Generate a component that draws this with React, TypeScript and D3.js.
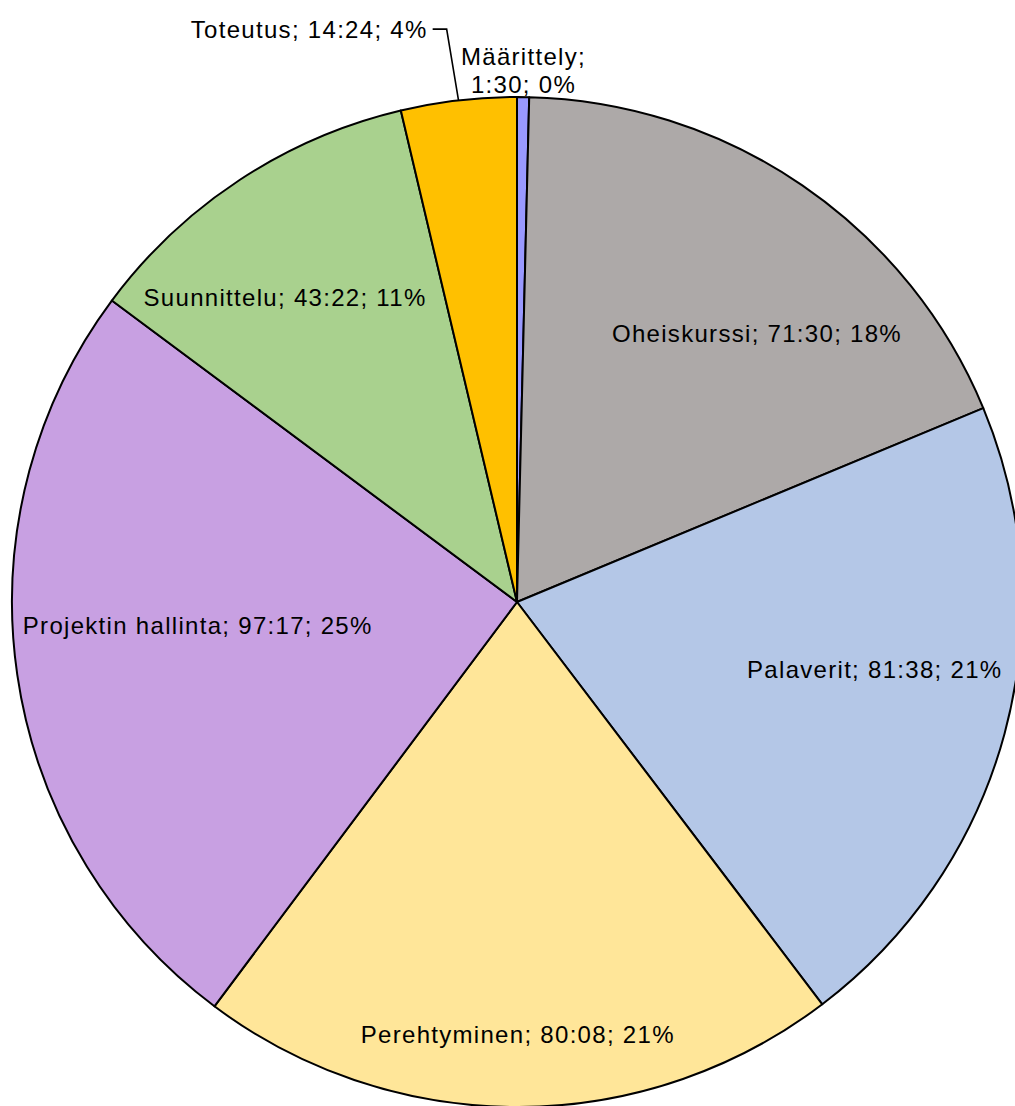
import * as d3 from 'd3';

// työaika kategorioittain (h:mm)
const categories = ["Määrittely", "Oheiskurssi", "Palaverit", "Perehtyminen", "Projektin hallinta", "Suunnittelu", "Toteutus"];
const durations = ["1:30", "71:30", "81:38", "80:08", "97:17", "43:22", "14:24"];
const colors = ["#9999ff", "#ada9a8", "#b4c7e7", "#ffe699", "#c8a0e2", "#a9d18e", "#ffc000"];

// label placement: angle (deg, clockwise from top) and radius as fraction of pie radius
const labelAngle = [0.7, 41.8, 100.7, 179.9, 265.7, 322.7, 353.0];
const labelRadius = [1.05, 0.713, 0.721, 0.857, 0.634, 0.758, 1.143];
const labelOutside = [true, false, false, false, false, false, true];

const W = 1015;
const H = 1106;
const cx = 517;
const cy = 602;
const R = 505;

const toMinutes = (s: string) => {
	const [h, m] = s.split(":").map(Number);
	return h * 60 + m;
};

const polar = (deg: number, r: number) => {
	const a = (deg * Math.PI) / 180;
	return [Math.sin(a) * r, -Math.cos(a) * r];
};

export default function App() {
	const minutes = durations.map(toMinutes);
	const total = d3.sum(minutes);

	const pie = d3.pie<number>().sort(null).value(d => d)(minutes);
	const arc = d3.arc<d3.PieArcDatum<number>>().innerRadius(0).outerRadius(R);

	const font = "'Liberation Sans', Arial, sans-serif";
	const textStyle = { fontFamily: font, fontSize: 24, letterSpacing: 1.3, fill: "#000" };

	const label = (i: number) => `${categories[i]}; ${durations[i]}; ${d3.format(".0%")(minutes[i] / total)}`;

	return (
		<svg width={W} height={H} style={{ position: "absolute", left: 0, top: 0, background: "#fff" }}>
			<g transform={`translate(${cx},${cy})`}>
				{pie.map((d, i) => (
					<path key={i} d={arc(d) as string} fill={colors[i]} stroke="#000" strokeWidth={2} strokeLinejoin="round" />
				))}
				{pie.map((d, i) => {
					if (labelOutside[i]) return null;
					const [x, y] = polar(labelAngle[i], labelRadius[i] * R);
					return (
						<text key={"l" + i} x={x} y={y} dy="0.35em" textAnchor="middle" style={textStyle}>
							{label(i)}
						</text>
					);
				})}
				{/* Toteutus: label with leader line */}
				{(() => {
					const i = 6;
					const mid = ((pie[i].startAngle + pie[i].endAngle) / 2) * 180 / Math.PI;
					const [ex, ey] = polar(mid, R);
					const [bx, by] = polar(labelAngle[i], labelRadius[i] * R);
					return (
						<g>
							<path d={`M${bx - 14},${by}L${bx},${by}L${ex},${ey}`} fill="none" stroke="#000" strokeWidth={1.6} />
							<text x={bx - 19} y={by} dy="0.35em" textAnchor="end" style={textStyle}>{label(i)}</text>
						</g>
					);
				})()}
				{/* Määrittely: two-line label above the slice */}
				{(() => {
					const i = 0;
					const [x, y] = polar(labelAngle[i], labelRadius[i] * R);
					return (
						<text x={x} y={y} textAnchor="middle" style={textStyle}>
							<tspan x={x} dy="-0.3em">{categories[i]};</tspan>
							<tspan x={x} dy="1.17em">{`${durations[i]}; ${d3.format(".0%")(minutes[i] / total)}`}</tspan>
						</text>
					);
				})()}
			</g>
		</svg>
	);
}
